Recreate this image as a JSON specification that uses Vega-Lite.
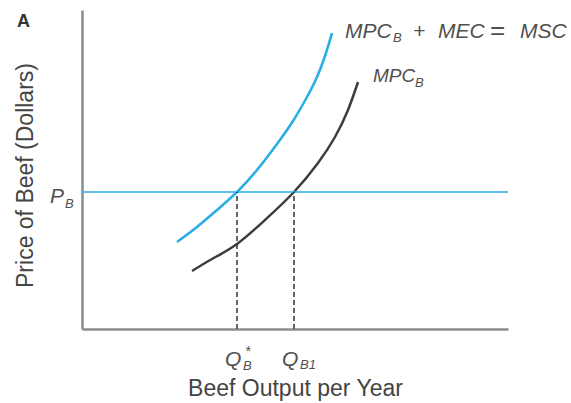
{
  "$schema": "https://vega.github.io/schema/vega-lite/v6.json",
  "width": 426,
  "height": 319,
  "autosize": {"type": "none"},
  "padding": {"left": 82, "top": 10, "right": 63, "bottom": 74},
  "config": {"view": {"stroke": null}, "font": "Liberation Sans"},
  "datasets": {
    "msc": [
      {"q": 95, "p": 87}, {"q": 115, "p": 102}, {"q": 135, "p": 119}, {"q": 155, "p": 137},
      {"q": 175, "p": 159}, {"q": 195, "p": 185}, {"q": 211, "p": 208}, {"q": 225, "p": 232},
      {"q": 235, "p": 252}, {"q": 243, "p": 273}, {"q": 250, "p": 296}
    ],
    "mpc": [
      {"q": 110, "p": 58}, {"q": 130, "p": 70}, {"q": 155, "p": 85}, {"q": 183, "p": 109},
      {"q": 212, "p": 137}, {"q": 236, "p": 166}, {"q": 253, "p": 192}, {"q": 266, "p": 219},
      {"q": 276, "p": 247}
    ],
    "price": [{"p": 137}],
    "drops": [{"q": 155, "p0": 0, "p": 137}, {"q": 212, "p0": 0, "p": 137}],
    "big": [
      {"q": 263, "p": 291, "t": "MPC"}, {"q": 331, "p": 291, "t": "+"},
      {"q": 356, "p": 291, "t": "MEC"},
      {"q": 438, "p": 291, "t": "MSC"}, {"q": -32, "p": 126, "t": "P"},
      {"q": 143, "p": -37, "t": "Q"}, {"q": 200, "p": -37, "t": "Q"}
    ],
    "eq": [{"q": 408, "p": 290, "t": "="}],
    "mid": [{"q": 291, "p": 247, "t": "MPC"}],
    "sub": [
      {"q": 311, "p": 287, "t": "B"}, {"q": 333, "p": 242, "t": "B"},
      {"q": -17, "p": 121, "t": "B"}, {"q": 161, "p": -41, "t": "B"},
      {"q": 218, "p": -40, "t": "B1"}
    ],
    "sup": [{"q": 163, "p": -27, "t": "*"}],
    "panel": [{"q": -65, "p": 302, "t": "A"}]
  },
  "layer": [
    {
      "data": {"name": "msc"},
      "mark": {"type": "line", "interpolate": "natural", "color": "#2aaee3", "strokeWidth": 2.6},
      "encoding": {
        "x": {"field": "q", "type": "quantitative", "scale": {"domain": [0, 426], "zero": false, "nice": false},
          "axis": {"title": "Beef Output per Year", "labels": false, "ticks": false, "grid": false,
            "domainColor": "#8c8c8c", "domainWidth": 2.5, "titleFontSize": 23, "titleFont": "Liberation Sans",
            "titleFontWeight": "normal", "titleColor": "#444444", "titlePadding": 48}},
        "y": {"field": "p", "type": "quantitative", "scale": {"domain": [0, 319], "zero": false, "nice": false},
          "axis": {"title": "Price of Beef (Dollars)", "labels": false, "ticks": false, "grid": false,
            "domainColor": "#8c8c8c", "domainWidth": 2.5, "titleFontSize": 23, "titleFont": "Liberation Sans",
            "titleFontWeight": "normal", "titleColor": "#444444", "titlePadding": 45, "titleY": 165}}
      }
    },
    {
      "data": {"name": "mpc"},
      "mark": {"type": "line", "interpolate": "natural", "color": "#3d3d3d", "strokeWidth": 2.5},
      "encoding": {"x": {"field": "q", "type": "quantitative"}, "y": {"field": "p", "type": "quantitative"}}
    },
    {
      "data": {"name": "price"},
      "mark": {"type": "rule", "color": "#2aaee3", "strokeWidth": 1.5},
      "encoding": {"y": {"field": "p", "type": "quantitative"}}
    },
    {
      "data": {"name": "drops"},
      "mark": {"type": "rule", "color": "#333333", "strokeWidth": 1.5, "strokeDash": [5, 3]},
      "encoding": {"x": {"field": "q", "type": "quantitative"}, "y": {"field": "p0", "type": "quantitative"}, "y2": {"field": "p"}}
    },
    {
      "data": {"name": "big"},
      "mark": {"type": "text", "align": "left", "baseline": "alphabetic", "fontSize": 21, "fontStyle": "italic", "color": "#505050"},
      "encoding": {"x": {"field": "q", "type": "quantitative"}, "y": {"field": "p", "type": "quantitative"}, "text": {"field": "t"}}
    },
    {
      "data": {"name": "eq"},
      "mark": {"type": "text", "align": "left", "baseline": "alphabetic", "fontSize": 26, "color": "#505050"},
      "encoding": {"x": {"field": "q", "type": "quantitative"}, "y": {"field": "p", "type": "quantitative"}, "text": {"field": "t"}}
    },
    {
      "data": {"name": "mid"},
      "mark": {"type": "text", "align": "left", "baseline": "alphabetic", "fontSize": 19, "fontStyle": "italic", "color": "#505050"},
      "encoding": {"x": {"field": "q", "type": "quantitative"}, "y": {"field": "p", "type": "quantitative"}, "text": {"field": "t"}}
    },
    {
      "data": {"name": "sub"},
      "mark": {"type": "text", "align": "left", "baseline": "alphabetic", "fontSize": 13, "fontStyle": "italic", "color": "#505050"},
      "encoding": {"x": {"field": "q", "type": "quantitative"}, "y": {"field": "p", "type": "quantitative"}, "text": {"field": "t"}}
    },
    {
      "data": {"name": "sup"},
      "mark": {"type": "text", "align": "left", "baseline": "alphabetic", "fontSize": 14, "fontStyle": "italic", "color": "#505050"},
      "encoding": {"x": {"field": "q", "type": "quantitative"}, "y": {"field": "p", "type": "quantitative"}, "text": {"field": "t"}}
    },
    {
      "data": {"name": "panel"},
      "mark": {"type": "text", "align": "left", "baseline": "alphabetic", "fontSize": 18, "fontWeight": "bold", "color": "#333333"},
      "encoding": {"x": {"field": "q", "type": "quantitative"}, "y": {"field": "p", "type": "quantitative"}, "text": {"field": "t"}}
    }
  ]
}
